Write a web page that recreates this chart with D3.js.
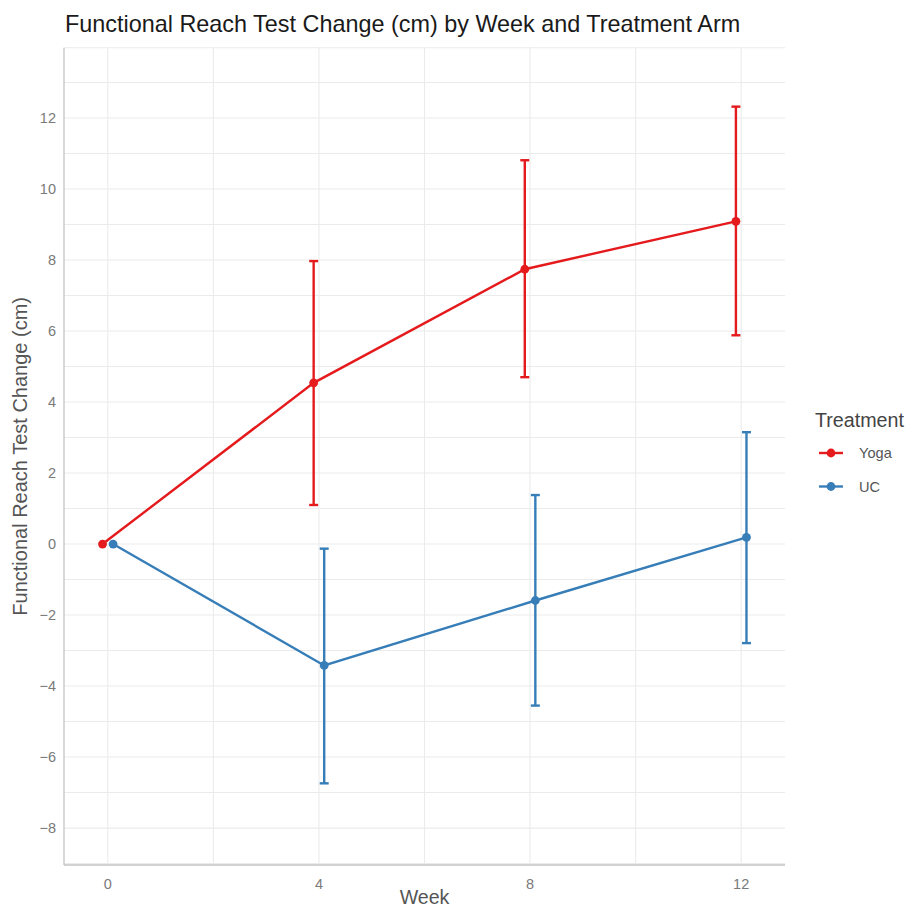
<!DOCTYPE html>
<html>
<head>
<meta charset="utf-8">
<script src="https://cdn.jsdelivr.net/npm/d3@7"></script>
<style>
  html, body { margin: 0; padding: 0; background: #fff; }
  svg { display: block; font-family: "Liberation Sans", Arial, sans-serif; }
</style>
</head>
<body>
<svg id="chart" width="907" height="910"></svg>
<script>
// Weeks of assessment
const weeks = [0, 4, 8, 12];
// Treatment arms
const arms = ["Yoga", "UC"];
// Mean change (cm) per arm and week
const yogaMean = [0, 4.54, 7.74, 9.09];
const yogaLower = [0, 1.10, 4.70, 5.88];
const yogaUpper = [0, 7.97, 10.81, 12.32];
const ucMean = [0, -3.42, -1.59, 0.19];
const ucLower = [0, -6.74, -4.55, -2.79];
const ucUpper = [0, -0.13, 1.38, 3.15];
// Axis ticks
const xTicks = [0, 4, 8, 12];
const yTicks = [-8, -6, -4, -2, 0, 2, 4, 6, 8, 10, 12];

const colors = { Yoga: "#E41A1C", UC: "#377EB8" };
const dodge = { Yoga: -0.1, UC: 0.1 };

const series = [
  { arm: "Yoga", mean: yogaMean, lo: yogaLower, hi: yogaUpper },
  { arm: "UC", mean: ucMean, lo: ucLower, hi: ucUpper }
].map(s => ({
  arm: s.arm,
  points: weeks.map((w, i) => ({ week: w, mean: s.mean[i], lo: s.lo[i], hi: s.hi[i] }))
}));

const svg = d3.select("#chart");
const panel = { left: 64, right: 785, top: 47.7, bottom: 865 };

const x = d3.scaleLinear().domain([-0.83, 12.83]).range([panel.left, panel.right]);
const y = d3.scaleLinear().domain([-9.04, 13.98]).range([panel.bottom, panel.top]);

// Grid: horizontal lines at every unit, vertical lines every two weeks
const grid = svg.append("g").attr("class", "grid");
grid.selectAll("line.h").data(d3.range(-9, 14)).join("line")
  .attr("class", "h")
  .attr("x1", panel.left).attr("x2", panel.right)
  .attr("y1", d => y(d)).attr("y2", d => y(d))
  .attr("stroke", "#ebebeb").attr("stroke-width", 1.1);
grid.append("line")
  .attr("x1", panel.left).attr("x2", panel.right)
  .attr("y1", panel.top).attr("y2", panel.top)
  .attr("stroke", "#ebebeb").attr("stroke-width", 1.1);
grid.selectAll("line.v").data(d3.range(0, 13, 2)).join("line")
  .attr("class", "v")
  .attr("x1", d => x(d)).attr("x2", d => x(d))
  .attr("y1", panel.top).attr("y2", panel.bottom)
  .attr("stroke", "#ebebeb").attr("stroke-width", 1.1);

// Axis lines
svg.append("line")
  .attr("x1", panel.left).attr("x2", panel.left)
  .attr("y1", panel.top).attr("y2", panel.bottom)
  .attr("stroke", "#c4c4c4").attr("stroke-width", 1.3);
svg.append("line")
  .attr("x1", panel.left).attr("x2", panel.right)
  .attr("y1", panel.bottom).attr("y2", panel.bottom)
  .attr("stroke", "#c4c4c4").attr("stroke-width", 1.3);

// Tick labels
const fmt = d => d < 0 ? "\u2212" + Math.abs(d) : String(d);
svg.append("g").selectAll("text").data(yTicks).join("text")
  .attr("x", 56).attr("y", d => y(d)).attr("dy", "0.36em")
  .attr("text-anchor", "end")
  .attr("font-size", 14.5).attr("fill", "#7a7a7a")
  .text(fmt);
svg.append("g").selectAll("text").data(xTicks).join("text")
  .attr("x", d => x(d)).attr("y", 889)
  .attr("text-anchor", "middle")
  .attr("font-size", 14.5).attr("fill", "#7a7a7a")
  .text(fmt);

// Axis titles
svg.append("text")
  .attr("x", (panel.left + panel.right) / 2).attr("y", 904)
  .attr("text-anchor", "middle")
  .attr("font-size", 19.6).attr("fill", "#555")
  .text("Week");
svg.append("text")
  .attr("transform", `translate(27,${(panel.top + panel.bottom) / 2}) rotate(-90)`)
  .attr("text-anchor", "middle")
  .attr("font-size", 20).attr("fill", "#555")
  .text("Functional Reach Test Change (cm)");

// Title
svg.append("text")
  .attr("x", 65).attr("y", 32)
  .attr("font-size", 23.4).attr("fill", "#1a1a1a")
  .text("Functional Reach Test Change (cm) by Week and Treatment Arm");

// Data layers
const line = d3.line().x(d => d.x).y(d => y(d.mean));
const capHalf = 0.085;

series.forEach(s => {
  const col = colors[s.arm];
  const pts = s.points.map(p => ({ ...p, x: x(p.week + dodge[s.arm]) }));
  const g = svg.append("g").attr("class", "series-" + s.arm);

  g.append("path").datum(pts)
    .attr("d", line)
    .attr("fill", "none").attr("stroke", col).attr("stroke-width", 2.4);

  const eb = g.selectAll("g.eb").data(pts.filter(p => p.hi !== p.lo)).join("g").attr("class", "eb");
  eb.append("line")
    .attr("x1", p => p.x).attr("x2", p => p.x)
    .attr("y1", p => y(p.lo)).attr("y2", p => y(p.hi))
    .attr("stroke", col).attr("stroke-width", 2.4);
  eb.append("line")
    .attr("x1", p => x(p.week + dodge[s.arm] - capHalf)).attr("x2", p => x(p.week + dodge[s.arm] + capHalf))
    .attr("y1", p => y(p.hi)).attr("y2", p => y(p.hi))
    .attr("stroke", col).attr("stroke-width", 2.4);
  eb.append("line")
    .attr("x1", p => x(p.week + dodge[s.arm] - capHalf)).attr("x2", p => x(p.week + dodge[s.arm] + capHalf))
    .attr("y1", p => y(p.lo)).attr("y2", p => y(p.lo))
    .attr("stroke", col).attr("stroke-width", 2.4);

  g.selectAll("circle").data(pts).join("circle")
    .attr("cx", p => p.x).attr("cy", p => y(p.mean)).attr("r", 4.4)
    .attr("fill", col);
});

// Legend
const legend = svg.append("g").attr("transform", "translate(815,0)");
legend.append("text")
  .attr("x", 0).attr("y", 427)
  .attr("font-size", 19.7).attr("fill", "#444")
  .text("Treatment");
arms.forEach((a, i) => {
  const cy = 453 + i * 33.5;
  legend.append("line")
    .attr("x1", 4).attr("x2", 28).attr("y1", cy).attr("y2", cy)
    .attr("stroke", colors[a]).attr("stroke-width", 2.4);
  legend.append("circle").attr("cx", 16).attr("cy", cy).attr("r", 4.4).attr("fill", colors[a]);
  legend.append("text")
    .attr("x", 44).attr("y", cy).attr("dy", "0.36em")
    .attr("font-size", 14.6).attr("fill", "#555")
    .text(a);
});
</script>
</body>
</html>
